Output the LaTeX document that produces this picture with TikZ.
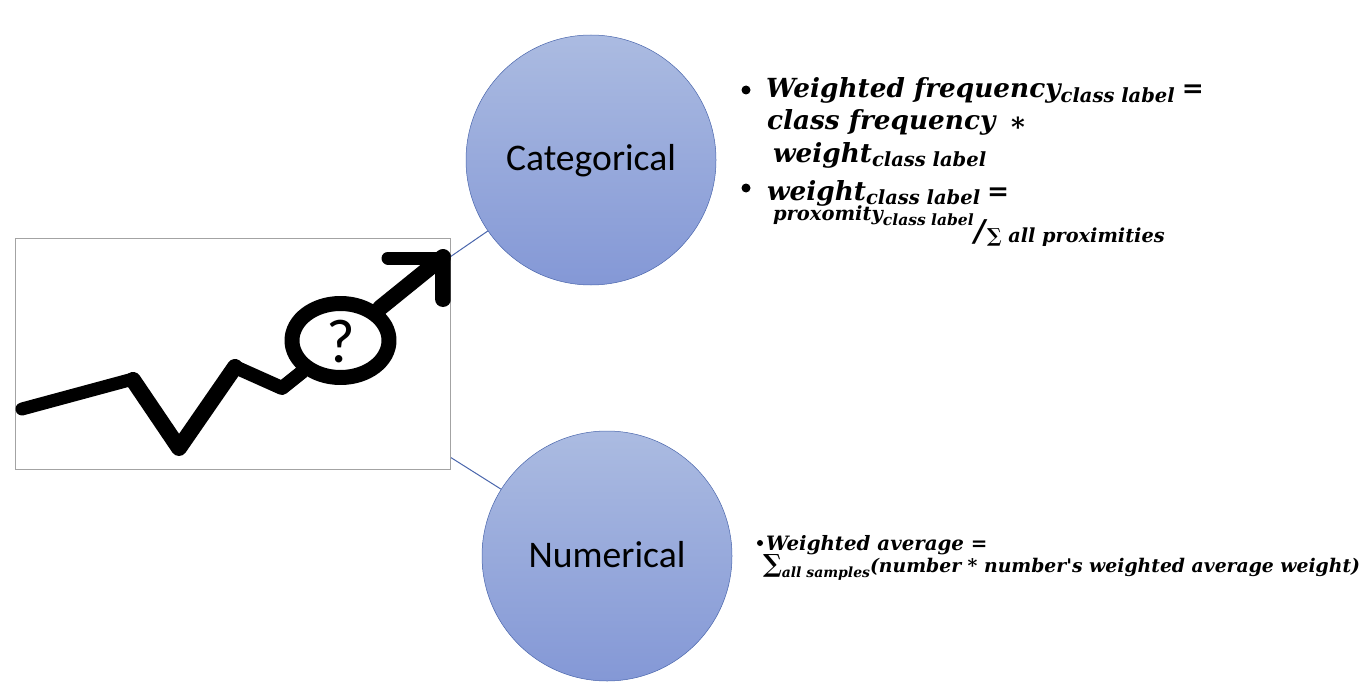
\documentclass[tikz,border=0pt]{standalone}
\usepackage{fontspec}
\setmainfont{Carlito}
\newfontfamily\mathbiB{DejaVu Serif}
\newcommand{\sizedbi}[1]{\fontsize{#1}{#1}\selectfont\mathbiB\bfseries\itshape}
\definecolor{circtop}{HTML}{ABBBE1}
\definecolor{circbot}{HTML}{8498D6}
\definecolor{edgeblue}{HTML}{4A66AC}
\definecolor{framegray}{HTML}{A3A3A3}
\tikzset{
  bubble/.style={circle,minimum size=250pt,inner sep=0pt,draw=edgeblue,line width=0.5pt,top color=circtop,bottom color=circbot},
  bubbletext/.style={inner sep=0pt,font=\fontsize{37.6}{37.6}\selectfont},
  link/.style={draw=edgeblue,line width=1pt},
  icon/.style={line width=16pt,line cap=round,line join=round,black},
  thinicon/.style={icon,line width=13pt},
  formula/.style={anchor=base west,inner sep=0pt,outer sep=0pt,text=black},
  big/.style={formula,font=\sizedbi{26.3}},
  dotb/.style={circle,fill=black,inner sep=0pt},
}
\newcommand{\sbs}[2]{\raisebox{-5pt}{\sizedbi{#1}#2}}
\begin{document}
\begin{tikzpicture}[x=1pt,y=-1pt]
\useasboundingbox (0,0) rectangle (1368,690);
\node[bubble] (cat) at (591,160) {};
\node[bubble] (num) at (607,556) {};
\node[bubbletext] (catl) at (591,160.5) {Categorical};
\node[bubbletext] (numl) at (607,555) {Numerical};
\coordinate (pa) at (450,257);
\coordinate (pb) at (450,457);
\draw[link] (pa) -- (cat);
\draw[link] (pb) -- (num);
% picture
\node[draw=framegray,line width=1pt,fill=white,minimum width=435pt,minimum height=231pt,inner sep=0pt] (pic) at (232.5,353.5) {};
\begin{scope}
\clip (15,238) rectangle (450.5,469);
\draw[thinicon] (22,409) -- (133,379);
\draw[icon] (133,380) -- (179,448) -- (235,367);
\draw[thinicon,line width=14pt] (235,367) -- (282,388) -- (302,372);
\draw[icon,line width=15pt,fill=white] (340.5,340.5) ellipse [x radius=48.5,y radius=37];
\draw[icon] (380,308) -- (443,257);
\draw[thinicon] (388,258) -- (443,258);
\draw[icon] (443,258) -- (443,299);
\end{scope}
\node[inner sep=0pt,font=\fontsize{62}{62}\selectfont] (q) at (341,342) {?};
% formulas
\node[dotb,minimum size=9pt] (b1) at (746,90) {};
\node[big] (l1) at (766,98) {Weighted frequency\sbs{19.5}{class label}\hspace{7pt}=};
\node[big] (l2) at (767,130) {class frequency};
\node[big] (l2s) at (1011,136) {*};
\node[big] (l3) at (773,162) {weight\sbs{19.5}{class label}};
\node[dotb,minimum size=9pt] (b2) at (746,188) {};
\node[big] (l4) at (767,200) {weight\sbs{19.5}{class label}\hspace{7pt}=};
\node[formula,font=\sizedbi{19.5}] (l5) at (773,220) {proxomity\sbs{15.5}{class label}};
\node[formula,font=\sizedbi{30}] (sl) at (974,241) {/};
\node[formula,font=\sizedbi{19.3}] (l6) at (987,242) {∑ all proximities};
\node[dotb,minimum size=6pt] (b3) at (760,543) {};
\node[formula,font=\sizedbi{19.8}] (m1) at (766,550) {Weighted average =};
\node[formula,font=\sizedbi{18.8}] (m2) at (763,572) {{\fontsize{25}{25}\selectfont ∑}\sbs{14}{all samples}(number * number's weighted average weight)};
\end{tikzpicture}
\end{document}
